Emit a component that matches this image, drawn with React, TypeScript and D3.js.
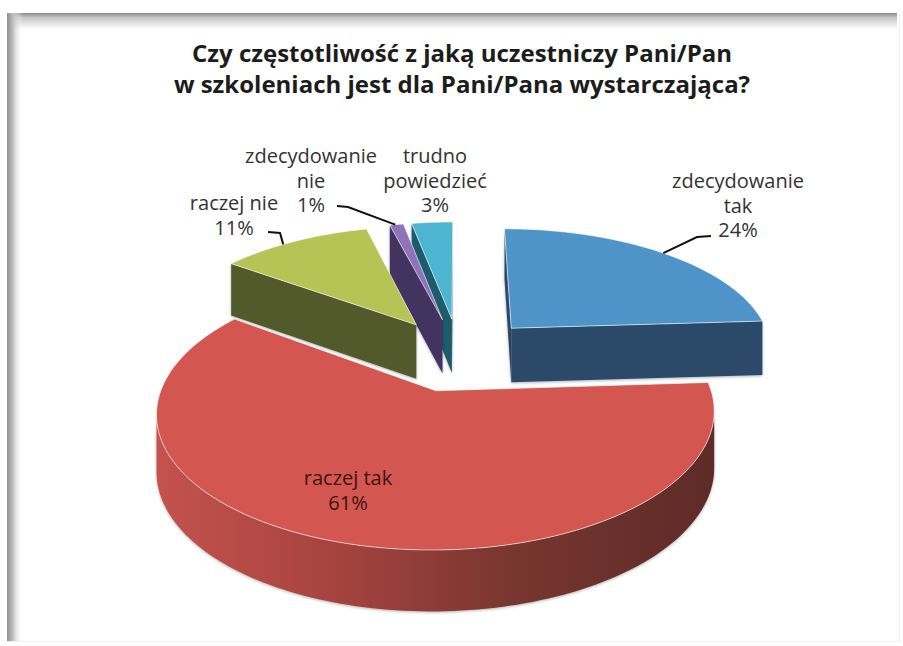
import { line, pie, range } from "d3";

const WIDTH = 903;
const HEIGHT = 646;

const categories = ["zdecydowanie tak", "raczej tak", "raczej nie", "zdecydowanie nie", "trudno powiedzieć"];
const values = [24, 61, 11, 1, 3];
const topColors = ["#4f94c9", "#d35650", "#b5c455", "#8f73b9", "#4db5d0"];
const sideColors = ["#2b4a69", "url(#redSide)", "#525a2c", "#423360", "#1e5c6d"];
const titleLines = [
  "Czy częstotliwość z jaką uczestniczy Pani/Pan",
  "w szkoleniach jest dla Pani/Pana wystarczająca?",
];

// hand placed callouts, same order as categories
const LABELS = [
  { lines: ["zdecydowanie", "tak", "24%"], x: 738, y: 188, fill: "#333" },
  { lines: ["raczej tak", "61%"], x: 348, y: 485, fill: "#3d1412" },
  { lines: ["raczej nie", "11%"], x: 234, y: 210, fill: "#333" },
  { lines: ["zdecydowanie", "nie", "1%"], x: 311, y: 163, fill: "#333" },
  { lines: ["trudno", "powiedzieć", "3%"], x: 435, y: 163, fill: "#333" },
];
const LEADERS: ([number, number][] | null)[] = [
  [[711, 236], [697, 237]],
  null,
  [[268, 232], [280, 233]],
  [[337, 206], [348, 207]],
  null,
];
const LEADER_AT = [0.5, 0, 0.42, 0.4, 0];

// perspective of the pie plane
const CX = 459;
const CY = 354;
const RX = 263;
const RY = 122;
const DIST = 6.5;
const EXPLODE = 0.3;
const DEPTH = 55;

type Pt = [number, number];

function project(angle: number, r: number, mid: number, h = 0): Pt {
  const wx = EXPLODE * Math.sin(mid) + r * Math.sin(angle);
  const wz = EXPLODE * Math.cos(mid) + r * Math.cos(angle);
  const s = DIST / (DIST + wz);
  return [CX + wx * s * RX, CY - wz * s * RY + h * Math.sqrt(s)];
}

const path = line();

const slices = pie<number>().sort(null)(values).map((d, i) => {
  const mid = (d.startAngle + d.endAngle) / 2;
  const steps = Math.max(4, Math.ceil((d.endAngle - d.startAngle) * 40));
  const angles = range(steps + 1).map((k) => d.startAngle + ((d.endAngle - d.startAngle) * k) / steps);
  const apex = project(0, 0, mid);
  const rim = angles.map((a) => project(a, 1, mid));
  const rimLow = angles.map((a) => project(a, 1, mid, DEPTH));
  const apexLow = project(0, 0, mid, DEPTH);
  const midRim = project(mid, 1, mid);

  // a wall shows only if the top face lies above its edge on screen
  const wall = (end: Pt, endLow: Pt) => {
    const dx = end[0] - apex[0];
    const dy = end[1] - apex[1];
    const toMid = dx * (midRim[1] - apex[1]) - dy * (midRim[0] - apex[0]);
    return toMid * dx < 0 ? [apex, end, endLow, apexLow] : null;
  };
  const walls = [
    wall(rim[0], rimLow[0]),
    wall(rim[steps], rimLow[steps]),
  ].filter((w): w is Pt[] => w !== null);

  // outer skin, only where the rim runs right to left
  const front = range(steps + 1).filter(
    (k) => (k < steps && rim[k + 1][0] < rim[k][0]) || (k > 0 && rim[k][0] < rim[k - 1][0])
  );
  const skin = front.length > 1
    ? [...front.map((k) => rim[k]), ...front.slice().reverse().map((k) => rimLow[k])]
    : null;

  const top = [apex, ...rim];
  const leaderStart = project(d.startAngle + (d.endAngle - d.startAngle) * LEADER_AT[i], 1, mid);
  return { i, walls, skin, top, leaderStart };
});

const DRAW_ORDER = [0, 4, 3, 2, 1];
const SIDE_SHADOW = { filter: "drop-shadow(0 1px 1.5px rgba(0,0,0,0.3))" };

export default function App() {
  return (
    <svg
      width={WIDTH}
      height={HEIGHT}
      style={{ position: "absolute", left: 0, top: 0, background: "#fff" }}
      fontFamily="'Open Sans', sans-serif"
    >
      <defs>
        <linearGradient id="redSide" gradientUnits="userSpaceOnUse" x1={160} x2={712} y1={0} y2={0}>
          <stop offset="0" stopColor="#c4524d" />
          <stop offset="0.3" stopColor="#a8443f" />
          <stop offset="0.65" stopColor="#77352f" />
          <stop offset="1" stopColor="#5e2b28" />
        </linearGradient>
        <linearGradient id="shadeTop" x1={0} x2={0} y1={0} y2={1}>
          <stop offset="0" stopColor="#8a8a8a" />
          <stop offset="0.3" stopColor="#c8c8c8" />
          <stop offset="1" stopColor="#fff" />
        </linearGradient>
        <linearGradient id="shadeLeft" x1={0} x2={1} y1={0} y2={0}>
          <stop offset="0" stopColor="#8f8f8f" />
          <stop offset="0.35" stopColor="#bdbdbd" />
          <stop offset="1" stopColor="#fff" stopOpacity={0} />
        </linearGradient>
      </defs>

      <rect x={7} y={13} width={890} height={16} fill="url(#shadeTop)" />
      <rect x={7} y={13} width={16} height={628} fill="url(#shadeLeft)" />
      <rect x={7} y={641} width={893} height={1} fill="#f0f0f0" />
      <rect x={899} y={13} width={1} height={628} fill="#f0f0f0" />

      <g textAnchor="middle" fontWeight={700} fontSize={24} fill="#1c1c1c">
        {titleLines.map((t, i) => (
          <text key={t} x={462} y={62 + i * 31}>{t}</text>
        ))}
      </g>

      {DRAW_ORDER.map((i) => {
        const s = slices[i];
        return (
          <g key={categories[i]}>
            {s.walls.map((w, k) => (
              <path key={k} d={`${path(w)}Z`} fill={sideColors[i]} style={SIDE_SHADOW} />
            ))}
            {s.skin && <path d={`${path(s.skin)}Z`} fill={sideColors[i]} style={SIDE_SHADOW} />}
            <path
              d={`${path(s.top)}Z`}
              fill={topColors[i]}
              stroke="#fff"
              strokeOpacity={0.6}
              strokeWidth={1}
              strokeLinejoin="round"
            />
          </g>
        );
      })}

      {slices.map((s) => {
        const elbow = LEADERS[s.i];
        if (!elbow) return null;
        return (
          <path
            key={s.i}
            d={path([...elbow, s.leaderStart]) ?? ""}
            fill="none"
            stroke="#111"
            strokeWidth={2}
          />
        );
      })}

      <g textAnchor="middle" fontSize={20}>
        {LABELS.map((l) => (
          <text key={l.lines.join()} x={l.x} y={l.y} fill={l.fill}>
            {l.lines.map((t, k) => (
              <tspan key={k} x={l.x} dy={k === 0 ? 0 : 24.5}>{t}</tspan>
            ))}
          </text>
        ))}
      </g>
    </svg>
  );
}
